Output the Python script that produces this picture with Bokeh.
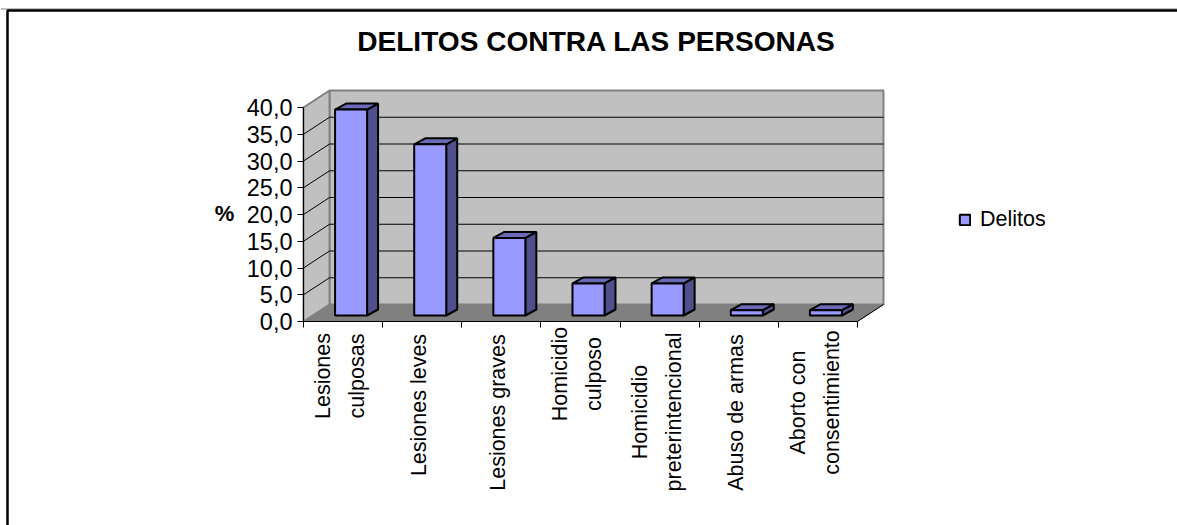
import math
from bokeh.core.properties import value
from bokeh.embed import file_html
from bokeh.models import ColumnDataSource, FixedTicker, Legend, LegendItem, Range1d
from bokeh.plotting import figure
from bokeh.resources import INLINE

categories = ["Lesiones\nculposas", "Lesiones leves", "Lesiones graves", "Homicidio\nculposo",
              "Homicidio\npreterintencional", "Abuso de armas", "Aborto con\nconsentimiento"]
values = [38.5, 32.0, 14.5, 6.0, 6.0, 1.0, 1.0]
y_ticks = [0, 5, 10, 15, 20, 25, 30, 35, 40]
y_tick_labels = ["0,0", "5,0", "10,0", "15,0", "20,0", "25,0", "30,0", "35,0", "40,0"]
title_text = "DELITOS CONTRA LAS PERSONAS"
y_label = "%"
series_name = "Delitos"

W, H = 1177, 525
FONT = "Liberation Sans"
X0, Y0 = 303, 321           # pixel position of category edge 0.5 / value 0
XS, YS = 79.14, 5.35        # pixels per category / per value unit


def xd(px):
    return 0.5 + (px - X0) / XS


def yd(py):
    return (Y0 - py) / YS


p = figure(width=W, height=H, output_backend="svg", toolbar_location=None,
           x_range=Range1d(xd(0), xd(W)), y_range=Range1d(yd(H), yd(0)),
           min_border=0, outline_line_color=None, background_fill_color="white")
p.grid.visible = False

n = len(categories)
DX, DY = 26 / XS, 17 / YS                # wall depth
x_l, x_r = 0.5, n + 0.5
y_max = y_ticks[-1]

# walls and floor
p.quad(left=[x_l + DX], right=[x_r + DX], bottom=[DY], top=[y_max + DY],
       fill_color="#C0C0C0", line_color="#808080", line_width=2)
p.patch([x_l, x_l + DX, x_l + DX, x_l], [0, DY, y_max + DY, y_max],
        fill_color="#C0C0C0", line_color="#808080", line_width=2)
p.patch([x_l, x_l + DX, x_r + DX, x_r], [0, DY, DY, 0],
        fill_color="#808080", line_color="#808080", line_width=1)

# grid on the back wall and slanted on the side wall
grid = y_ticks[1:-1]
p.segment(x0=[x_l + DX] * len(grid), x1=[x_r + DX] * len(grid),
          y0=[t + DY for t in grid], y1=[t + DY for t in grid],
          line_color="black", line_width=1)
p.segment(x0=[x_l] * len(grid), x1=[x_l + DX] * len(grid),
          y0=grid, y1=[t + DY for t in grid], line_color="black", line_width=1)
p.segment(x0=[x_r], x1=[x_r + DX], y0=[0], y1=[DY], line_color="black", line_width=1)

# bars
BW = 16 / XS
OFFX, OFFY = 8 / XS, 6 / YS              # bar set back from the floor's front edge
BDX, BDY = 11 / XS, 6 / YS               # bar depth
cx = [i + 1 + OFFX for i in range(n)]
left = [c - BW for c in cx]
right = [c + BW for c in cx]
base = [OFFY] * n
top = [v + OFFY for v in values]
for l, r, b, t in zip(left, right, base, top):
    p.patch([r, r + BDX, r + BDX, r], [b, b + BDY, t + BDY, t],
            fill_color="#4F4F8C", line_color="black", line_width=2)
    p.patch([l, l + BDX, r + BDX, r], [t, t + BDY, t + BDY, t],
            fill_color="#6A6AB8", line_color="black", line_width=2)
front = p.quad(left=left, right=right, bottom=base, top=top,
               fill_color="#9999FF", line_color="black", line_width=2)

# axes
ya = p.yaxis[0]
ya.fixed_location = x_l
ya.bounds = (0, y_max)
ya.ticker = FixedTicker(ticks=y_ticks)
ya.major_label_overrides = dict(zip(y_ticks, y_tick_labels))
ya.major_label_text_font = FONT
ya.major_label_text_font_size = "23.5px"
ya.major_label_text_color = "black"
ya.major_label_standoff = 5
ya.major_tick_in = 0
ya.major_tick_out = 6
ya.minor_tick_line_color = None
ya.axis_line_color = "black"
ya.major_tick_line_color = "black"

xa = p.xaxis[0]
xa.fixed_location = 0
xa.bounds = (x_l, x_r)
edges = [i + 0.5 for i in range(n + 1)]
xa.ticker = FixedTicker(ticks=edges)
xa.major_label_overrides = {e: "" for e in edges}
xa.major_tick_in = 0
xa.major_tick_out = 6
xa.minor_tick_line_color = None
xa.axis_line_color = "black"
xa.major_tick_line_color = "black"

# category labels (rotated, one text per line, centred on a common point)
label_mid = [375.5, 404.5, 412, 373.5, 411.5, 412, 402]   # pixel centre along the label
GAP = 17 / XS
lx, ly, lt = [], [], []
for i, (c, m) in enumerate(zip(categories, label_mid)):
    lines = c.split("\n")
    for j, ln in enumerate(lines):
        off = 0 if len(lines) == 1 else (-GAP if j == 0 else GAP)
        lx.append(i + 1 + off - 3 / XS)
        ly.append(yd(m))
        lt.append(ln)
p.text(x=lx, y=ly, text=lt, angle=math.pi / 2, text_align="center", text_baseline="middle",
       text_font=value(FONT), text_font_size="21.5px", text_color="black")

# title and value axis name
p.text(x=[xd(596)], y=[yd(41)], text=[title_text], text_align="center", text_baseline="middle",
       text_font=value(FONT), text_font_size="28.1px", text_font_style="bold", text_color="black")
p.text(x=[xd(224)], y=[yd(213)], text=[y_label], text_align="center", text_baseline="middle",
       text_font=value(FONT), text_font_size="22px", text_font_style="bold", text_color="black")

# page border: left and top only, running off the picture
p.line(x=[xd(0), xd(W)], y=[yd(8.5), yd(8.5)], line_color="#808080", line_width=1)
p.line(x=[xd(7), xd(7), xd(W)], y=[yd(H), yd(10), yd(10)], line_color="black", line_width=2.5)

legend = Legend(items=[LegendItem(label=series_name, renderers=[front])],
                location=(958, H - 232), orientation="vertical",
                background_fill_alpha=0, border_line_alpha=0, padding=0, margin=0,
                glyph_width=13, glyph_height=13, label_standoff=9,
                label_text_font=FONT, label_text_font_size="21.5px", label_text_color="black")
p.add_layout(legend, "center")

open("out.html", "w").write(file_html(p, INLINE))
